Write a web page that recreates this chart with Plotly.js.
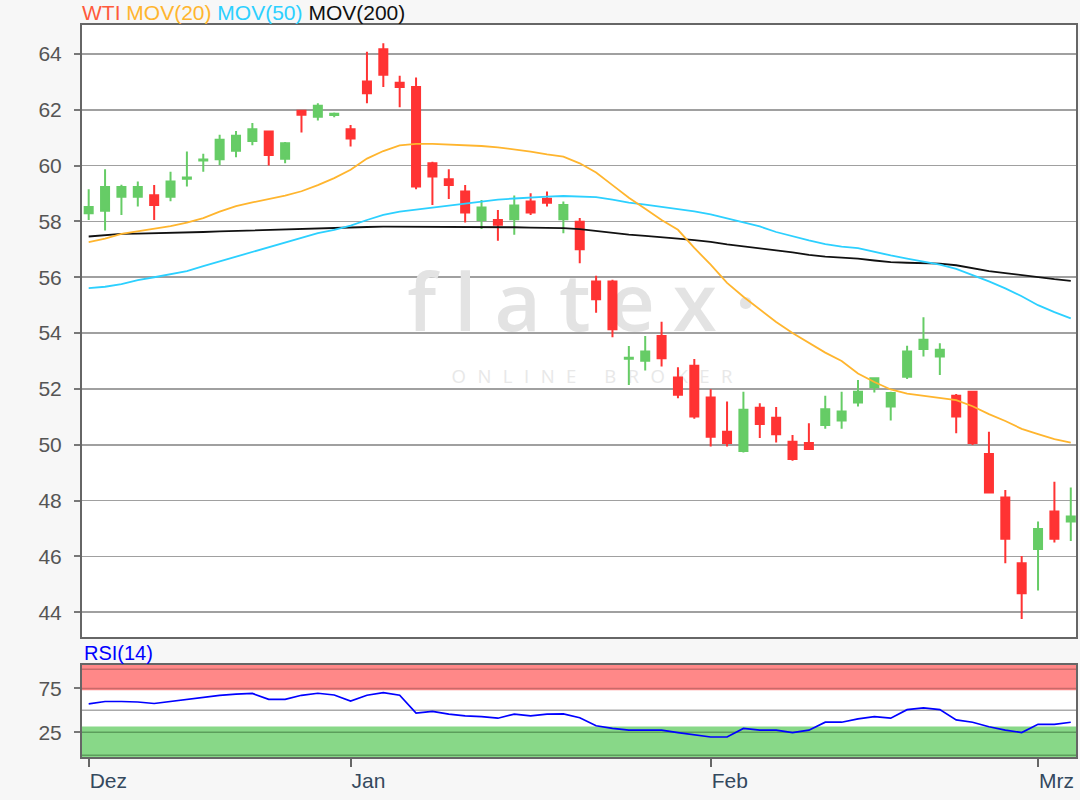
<!DOCTYPE html>
<html>
<head>
<meta charset="utf-8">
<script src="https://cdn.plot.ly/plotly-3.0.1.min.js"></script>
<style>
html,body{margin:0;padding:0;background:#f7f7f7;}
#chart{width:1080px;height:800px;}
</style>
</head>
<body>
<div id="chart"></div>
<script>
// ---- data (trading-day index 0..60) ----
const openP  = [58.29,58.38,58.88,58.88,58.94,58.88,59.53,60.18,60.23,60.53,60.88,61.22,60.24,61.96,61.75,61.81,61.30,63.01,64.17,62.97,62.81,60.08,59.51,59.07,58.05,58.05,58.08,58.71,58.81,58.08,57.99,55.85,55.85,53.08,53.01,53.90,52.41,52.83,51.69,50.47,49.78,51.33,50.97,50.11,50.06,50.71,50.87,51.51,52.06,51.37,52.44,53.43,53.16,51.76,51.90,49.67,48.11,45.76,46.27,47.61,47.25];
const highP  = [59.15,59.87,59.31,59.43,59.30,59.78,60.50,60.42,61.10,61.24,61.52,61.24,60.84,61.99,62.23,61.90,61.45,64.08,64.38,63.22,63.15,60.14,59.87,59.30,58.77,58.41,58.93,59.01,59.07,58.71,58.12,56.05,55.91,53.54,53.90,54.41,52.78,53.07,51.99,51.55,51.90,51.49,51.35,50.35,50.77,51.76,51.90,52.32,52.42,51.90,53.55,54.57,53.64,51.82,51.92,50.47,48.38,46.02,47.25,48.68,48.47];
const lowP   = [58.05,57.67,58.23,58.53,58.05,58.72,59.25,59.78,60.02,60.30,60.73,60.00,60.08,61.18,61.61,61.73,60.68,62.23,62.81,62.09,59.15,58.59,58.80,57.96,57.73,57.31,57.52,58.23,58.53,57.58,56.50,54.73,53.85,52.14,52.66,52.80,51.67,50.93,49.94,49.94,49.72,50.24,50.08,49.43,49.82,50.57,50.57,51.37,51.87,50.87,52.36,53.16,52.50,50.41,49.99,48.27,45.76,43.76,44.78,46.50,46.55];
const closeP = [58.52,59.23,59.23,59.23,58.59,59.43,59.57,60.22,60.92,61.07,61.30,60.38,60.80,61.82,62.14,61.86,60.97,62.59,63.25,62.81,59.25,59.61,59.30,58.32,58.50,57.88,58.57,58.32,58.67,58.59,57.00,55.21,54.14,53.12,53.34,53.10,51.79,51.01,50.29,50.06,51.25,50.74,50.38,49.49,49.85,51.27,51.19,51.90,52.38,51.85,53.34,53.76,53.40,51.01,50.06,48.29,46.63,44.68,46.98,46.63,47.43];
const mov20  = [57.26,57.38,57.55,57.65,57.74,57.83,57.96,58.12,58.35,58.55,58.68,58.80,58.92,59.08,59.30,59.55,59.85,60.25,60.52,60.72,60.78,60.78,60.76,60.73,60.70,60.65,60.58,60.50,60.40,60.32,60.08,59.75,59.30,58.85,58.45,58.05,57.70,57.05,56.45,55.80,55.30,54.85,54.40,54.00,53.65,53.30,53.00,52.55,52.25,51.98,51.83,51.75,51.68,51.60,51.38,51.10,50.85,50.57,50.38,50.20,50.08];
const mov50  = [55.61,55.66,55.75,55.90,56.00,56.10,56.22,56.40,56.57,56.75,56.92,57.08,57.25,57.42,57.58,57.70,57.85,58.05,58.23,58.35,58.42,58.50,58.58,58.65,58.72,58.78,58.82,58.86,58.89,58.91,58.90,58.87,58.78,58.67,58.60,58.52,58.43,58.36,58.25,58.10,57.95,57.82,57.62,57.46,57.32,57.19,57.10,57.04,56.90,56.78,56.67,56.55,56.45,56.30,56.08,55.85,55.60,55.32,55.00,54.75,54.53];
const mov200 = [57.46,57.50,57.55,57.56,57.57,57.58,57.60,57.62,57.64,57.66,57.68,57.70,57.72,57.74,57.76,57.78,57.79,57.80,57.81,57.81,57.81,57.81,57.80,57.80,57.80,57.79,57.79,57.78,57.77,57.76,57.72,57.65,57.58,57.53,57.48,57.44,57.38,57.33,57.27,57.18,57.10,57.03,56.96,56.89,56.80,56.74,56.70,56.67,56.60,56.54,56.52,56.51,56.49,56.43,56.33,56.22,56.15,56.07,56.00,55.93,55.87];
const rsi14  = [57.4,60.1,60.1,59.5,57.8,60.0,62.5,65.0,67.2,68.5,69.3,62.5,62.5,67.2,69.5,67.5,60.5,67.2,70.3,67.2,46.9,48.8,45.7,43.7,42.9,41.0,45.7,43.7,45.7,46.0,41.5,32.4,29.3,27.3,27.3,27.3,24.6,22.3,19.5,19.5,29.3,27.3,27.3,24.6,27.3,36.4,36.4,40.2,42.9,41.0,50.8,52.8,50.8,39.1,36.4,31.2,27.3,24.6,34.0,34.0,36.4];

const tickIndex  = [0, 16, 38, 58];
const tickLabels = ['Dez', 'Jan', 'Feb', 'Mrz'];
const priceTicks = [44, 46, 48, 50, 52, 54, 56, 58, 60, 62, 64];
const rsiTicks   = [25, 75];
const seriesNames = ['WTI', 'MOV(20)', 'MOV(50)', 'MOV(200)'];
const rsiName = 'RSI(14)';

const xIdx = closeP.map((_, i) => i);

const colUp = '#66cc66', colDown = '#ff3333';
const colWTI = '#ff5a3c', col20 = '#ffb52e', col50 = '#2cd0ff', col200 = '#111111';

const font = 'Liberation Sans, Arial, sans-serif';

const traces = [
  // watermark (behind candles)
  {type:'scatter', mode:'text', x:[30.69], y:[54.80], text:['flatex·'], xaxis:'x', yaxis:'y',
   textfont:{family:'Open Sans, sans-serif', size:80, weight:600, color:'#e3e3e3'}, hoverinfo:'skip', showlegend:false, zorder:-1, cliponaxis:false},
  {type:'scatter', mode:'text', x:[31.1], y:[52.38], text:['ONLINE BROKER'], xaxis:'x', yaxis:'y',
   textfont:{family:'Open Sans, sans-serif', size:18.5, color:'#e8e8e8'}, hoverinfo:'skip', showlegend:false, zorder:-1, cliponaxis:false},
  {type:'candlestick', x:xIdx, open:openP, high:highP, low:lowP, close:closeP, xaxis:'x', yaxis:'y',
   name: seriesNames[0], whiskerwidth:0,
   increasing:{line:{color:colUp, width:2}, fillcolor:colUp},
   decreasing:{line:{color:colDown, width:2}, fillcolor:colDown}, showlegend:false},
  {type:'scatter', mode:'lines', x:xIdx, y:mov200, name:seriesNames[3], line:{color:col200, width:1.8}, xaxis:'x', yaxis:'y', showlegend:false},
  {type:'scatter', mode:'lines', x:xIdx, y:mov50, name:seriesNames[2], line:{color:col50, width:1.8}, xaxis:'x', yaxis:'y', showlegend:false},
  {type:'scatter', mode:'lines', x:xIdx, y:mov20, name:seriesNames[1], line:{color:col20, width:1.8}, xaxis:'x', yaxis:'y', showlegend:false},
  {type:'scatter', mode:'lines', x:xIdx, y:rsi14, name:rsiName, line:{color:'#0000ff', width:1.7}, xaxis:'x2', yaxis:'y2', showlegend:false}
];

const layout = {
  width:1080, height:800,
  paper_bgcolor:'#f7f7f7', plot_bgcolor:'#ffffff',
  margin:{l:81, r:3, t:24, b:42, pad:0},
  showlegend:false,
  boxgap:0.3,
  xaxis: {
    domain:[0,1], anchor:'y', range:[-0.47, 60.38], zeroline:false,
    showgrid:false, showticklabels:false, ticks:'', showline:false,
    rangeslider:{visible:false}, fixedrange:true
  },
  xaxis2: {
    domain:[0,1], anchor:'y2', matches:'x', range:[-0.47, 60.38], zeroline:false, showline:false,
    showgrid:false, tickmode:'array', tickvals:tickIndex, ticktext:tickLabels,
    ticks:'outside', ticklen:8, tickwidth:2, tickcolor:'#666666',
    ticklabelposition:'outside right', ticklabelstandoff:4,
    tickfont:{family:font, size:21, color:'#34495e'}, fixedrange:true
  },
  yaxis: {
    domain:[0.1635, 1], anchor:'x', range:[43.08, 65.07], zeroline:false, showline:false,
    tickmode:'array', tickvals:priceTicks, ticks:'outside', ticklen:6, tickwidth:2, tickcolor:'#777777',
    showgrid:true, gridcolor:'#a0a0a0', gridwidth:1.6,
    tickfont:{family:font, size:21, color:'#555555'}, ticklabelstandoff:8, fixedrange:true
  },
  yaxis2: {
    domain:[0, 0.1281], anchor:'x2', range:[-4.5, 103], zeroline:false, showline:false,
    tickmode:'array', tickvals:rsiTicks, ticks:'outside', ticklen:6, tickwidth:2, tickcolor:'#777777',
    showgrid:false,
    tickfont:{family:font, size:21, color:'#555555'}, ticklabelstandoff:8, fixedrange:true
  },
  shapes: [
    {type:'rect', xref:'paper', yref:'y2', x0:0, x1:1, y0:73, y1:102, fillcolor:'#ff8888', line:{width:0}, layer:'below'},
    {type:'rect', xref:'paper', yref:'y2', x0:0, x1:1, y0:-4.5, y1:31.6, fillcolor:'#88d888', line:{width:0}, layer:'below'},
    {type:'line', xref:'paper', yref:'y2', x0:0, x1:1, y0:97, y1:97, line:{color:'#c96a6a', width:1.5}, layer:'below'},
    {type:'line', xref:'paper', yref:'y2', x0:0, x1:1, y0:75, y1:75, line:{color:'#c96a6a', width:1.5}, layer:'below'},
    {type:'line', xref:'paper', yref:'y2', x0:0, x1:1, y0:50, y1:50, line:{color:'#aaaaaa', width:1.5}, layer:'below'},
    {type:'line', xref:'paper', yref:'y2', x0:0, x1:1, y0:25, y1:25, line:{color:'#5c9e5c', width:1.5}, layer:'below'},
    {type:'line', xref:'paper', yref:'y2', x0:0, x1:1, y0:-1.5, y1:-1.5, line:{color:'#5c9e5c', width:1.5}, layer:'below'},
    // panel frames
    {type:'rect', xref:'paper', yref:'y domain', x0:0, x1:1, y0:0, y1:1, fillcolor:'rgba(0,0,0,0)', line:{color:'#666666', width:2}, layer:'above'},
    {type:'rect', xref:'paper', yref:'y2 domain', x0:0, x1:1, y0:0, y1:1, fillcolor:'rgba(0,0,0,0)', line:{color:'#666666', width:2}, layer:'above'}
  ],
  annotations: [
    {xref:'paper', yref:'paper', x:-0.001, y:1.015, xanchor:'left', yanchor:'middle', showarrow:false,
     font:{family:font, size:21, color:col200},
     text:'<span style="color:'+colWTI+'">'+seriesNames[0]+'</span> <span style="color:'+col20+'">'+seriesNames[1]+
          '</span> <span style="color:'+col50+'">'+seriesNames[2]+'</span> <span style="color:'+col200+'">'+seriesNames[3]+'</span>'},
    {xref:'paper', yref:'paper', x:0.001, y:0.1424, xanchor:'left', yanchor:'middle', showarrow:false,
     font:{family:font, size:20, color:'#0000ff'}, text:rsiName}
  ]
};

Plotly.newPlot('chart', traces, layout, {displayModeBar:false, staticPlot:true}).then(function(gd){
  gd.querySelectorAll('.textpoint text').forEach(function(t){
    if (t.textContent.indexOf('flatex') === 0) t.setAttribute('letter-spacing', '18px');
    if (t.textContent === 'ONLINE BROKER') t.setAttribute('letter-spacing', '11.5px');
  });
});
</script>
</body>
</html>
